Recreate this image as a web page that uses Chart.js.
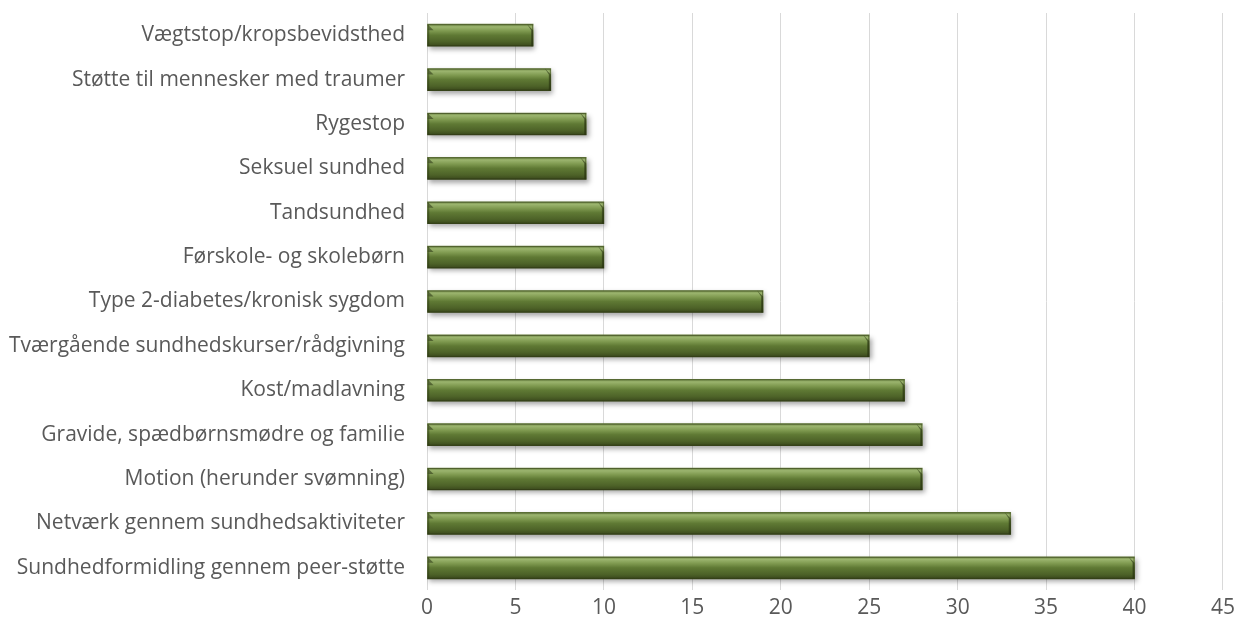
<!DOCTYPE html>
<html>
<head>
<meta charset="utf-8">
<script src="https://cdn.jsdelivr.net/npm/chart.js@4/dist/chart.umd.min.js"></script>
<style>
  html, body { margin: 0; padding: 0; background: #ffffff; }
  #wrap { width: 1240px; height: 628px; position: relative; }
</style>
</head>
<body>
<div id="wrap"><canvas id="chart"></canvas></div>
<script>
const categories = [
    'Vægtstop/kropsbevidsthed',
    'Støtte til mennesker med traumer',
    'Rygestop',
    'Seksuel sundhed',
    'Tandsundhed',
    'Førskole- og skolebørn',
    'Type 2-diabetes/kronisk sygdom',
    'Tværgående sundhedskurser/rådgivning',
    'Kost/madlavning',
    'Gravide, spædbørnsmødre og familie',
    'Motion (herunder svømning)',
    'Netværk gennem sundhedsaktiviteter',
    'Sundhedformidling gennem peer-støtte'
];
const counts = [6, 7, 9, 9, 10, 10, 19, 25, 27, 28, 28, 33, 40];
const xTicks = [0, 5, 10, 15, 20, 25, 30, 35, 40, 45];

const textGrey = '#595959';
const gridGrey = '#d9d9d9';
const barThick = 22;
const labelFont = { family: "'Open Sans'", size: 21 };

// vertical gradient for each bar, like the bevelled Excel bars
function barFill(ctx) {
    const chart = ctx.chart;
    const yScale = chart.scales.y;
    if (!yScale || ctx.dataIndex === undefined) return '#5a7430';
    const yc = yScale.getPixelForValue(ctx.dataIndex);
    if (!isFinite(yc)) return '#5a7430';
    const top = yc - barThick / 2;
    const g = chart.ctx.createLinearGradient(0, top, 0, top + barThick);
    g.addColorStop(0, '#6f8845');
    g.addColorStop(0.12, '#9bb46e');
    g.addColorStop(0.3, '#7f9a50');
    g.addColorStop(0.5, '#5f7934');
    g.addColorStop(0.8, '#4d6228');
    g.addColorStop(1, '#3a481c');
    return g;
}

const bevelPlugin = {
    id: 'bevel',
    beforeDatasetDraw(chart) {
        const c = chart.ctx;
        c.save();
        c.shadowColor = 'rgba(0,0,0,0.35)';
        c.shadowBlur = 5;
        c.shadowOffsetX = 2;
        c.shadowOffsetY = 3;
    },
    afterDatasetDraw(chart) {
        const c = chart.ctx;
        c.restore();
        const meta = chart.getDatasetMeta(0);
        meta.data.forEach(bar => {
            const h = bar.height;
            const top = bar.y - h / 2;
            const bot = bar.y + h / 2;
            const l = bar.base;
            const r = bar.x;
            const b = 6;
            c.save();
            // right end facet
            c.fillStyle = 'rgba(35,45,12,0.55)';
            c.beginPath();
            c.moveTo(r - b, top);
            c.lineTo(r, top + b);
            c.lineTo(r, bot);
            c.lineTo(r - 2, bot);
            c.lineTo(r - 2, top + b);
            c.closePath();
            c.fill();
            // left end facet
            c.fillStyle = 'rgba(30,40,10,0.5)';
            c.beginPath();
            c.moveTo(l, top);
            c.lineTo(l + b, top + b);
            c.lineTo(l, top + b);
            c.closePath();
            c.fill();
            c.fillStyle = 'rgba(30,40,10,0.25)';
            c.fillRect(l, top + b, 2, h - b);
            // thin outline
            c.strokeStyle = 'rgba(45,55,20,0.55)';
            c.lineWidth = 1;
            c.strokeRect(l + 0.5, top + 0.5, r - l - 1, h - 1);
            c.restore();
        });
    }
};

const data = {
    labels: categories,
    datasets: [{
        data: counts,
        backgroundColor: barFill,
        borderWidth: 0,
        barThickness: barThick
    }]
};

const config = {
    type: 'bar',
    data,
    plugins: [bevelPlugin],
    options: {
        indexAxis: 'y',
        responsive: false,
        animation: false,
        layout: {
            padding: { left: 4, right: 0, top: 13, bottom: 8 }
        },
        scales: {
            x: {
                min: 0,
                max: 45,
                afterBuildTicks(axis) {
                    axis.ticks = xTicks.map(v => ({ value: v }));
                },
                afterFit(axis) {
                    axis.height = 30;
                },
                grid: {
                    color: gridGrey,
                    lineWidth: 1,
                    drawTicks: false
                },
                border: { display: false },
                ticks: {
                    color: textGrey,
                    padding: 5,
                    font: labelFont
                }
            },
            y: {
                // category labels sit at bar centres, no need for end padding
                afterFit(axis) {
                    axis.width = 423;
                    axis.paddingTop = 0;
                    axis.paddingBottom = 0;
                },
                grid: { display: false, drawTicks: false },
                border: { display: false },
                ticks: {
                    color: textGrey,
                    padding: 22,
                    autoSkip: false,
                    font: labelFont
                }
            }
        },
        plugins: {
            legend: { display: false },
            tooltip: { enabled: false }
        }
    }
};

const canvas = document.getElementById('chart');
canvas.width = 1240;
canvas.height = 628;
new Chart(canvas, config);
</script>
</body>
</html>
